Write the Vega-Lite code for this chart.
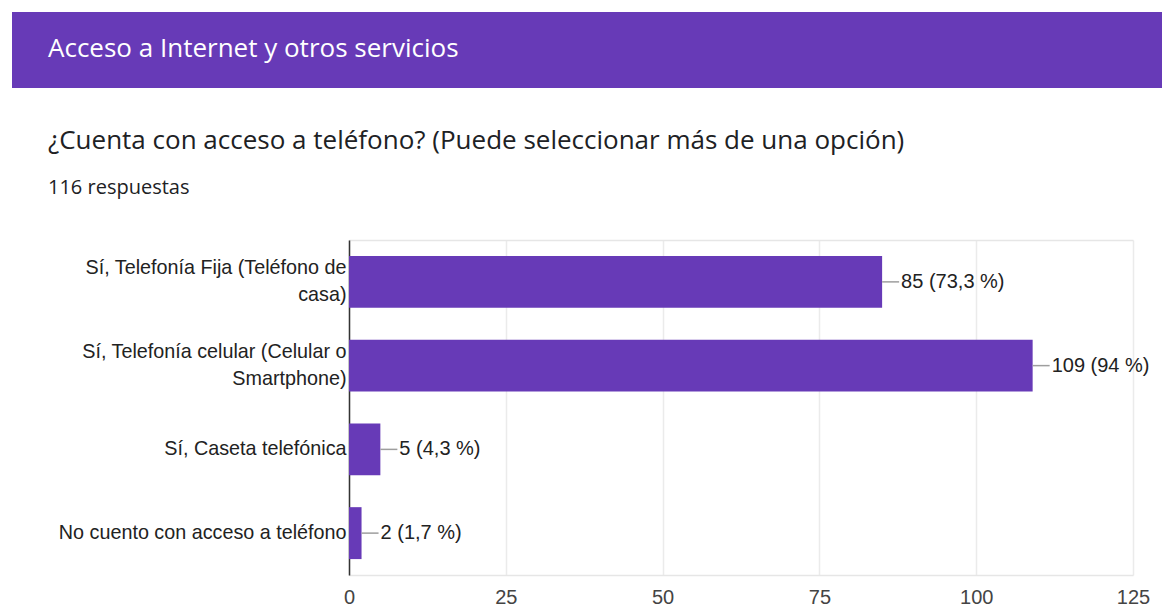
{
  "$schema": "https://vega.github.io/schema/vega-lite/v6.json",
  "background": "white",
  "padding": {"left": 12, "top": 12, "right": 0, "bottom": 0},
  "columns": 1,
  "align": "none",
  "spacing": 40,
  "config": {"font": "Liberation Sans"},
  "concat": [
    {
      "width": 1150,
      "height": 76,
      "view": {"fill": "#673ab7", "stroke": null},
      "data": {"values": [{"section": "Acceso a Internet y otros servicios"}]},
      "mark": {"type": "rect", "color": "#673ab7"},
      "encoding": {},
      "title": {
        "text": "Acceso a Internet y otros servicios",
        "anchor": "start",
        "frame": "group",
        "orient": "top",
        "dx": 36,
        "offset": -50,
        "color": "white",
        "font": "Open Sans",
        "fontSize": 26,
        "fontWeight": "normal"
      }
    },
    {
      "width": 1150,
      "height": 335,
      "view": {"stroke": null},
      "title": {
        "text": "¿Cuenta con acceso a teléfono? (Puede seleccionar más de una opción)",
        "subtitle": "116 respuestas",
        "anchor": "start",
        "frame": "group",
        "dx": 36,
        "offset": 42,
        "subtitlePadding": 24,
        "font": "Open Sans",
        "fontSize": 26,
        "fontWeight": "normal",
        "color": "#202124",
        "subtitleFont": "Open Sans",
        "subtitleFontSize": 20,
        "subtitleColor": "#202124"
      },
      "data": {
        "values": [
          {"option": "Sí, Telefonía Fija (Teléfono de casa)", "count": 85, "label": "85 (73,3 %)"},
          {"option": "Sí, Telefonía celular (Celular o Smartphone)", "count": 109, "label": "109 (94 %)"},
          {"option": "Sí, Caseta telefónica", "count": 5, "label": "5 (4,3 %)"},
          {"option": "No cuento con acceso a teléfono", "count": 2, "label": "2 (1,7 %)"}
        ]
      },
      "encoding": {
        "y": {
          "field": "option",
          "type": "nominal",
          "sort": null,
          "scale": {"paddingInner": 0.38, "paddingOuter": 0.19},
          "axis": {
            "title": null,
            "offset": -337,
            "domainColor": "#333333",
            "domainWidth": 1.5,
            "ticks": false,
            "grid": false,
            "labelPadding": 3,
            "labelFont": "Liberation Sans",
            "labelFontSize": 19.75,
            "labelColor": "#222222",
            "labelLimit": 400,
            "labelLineHeight": 27,
            "labelOffset": {"condition": {"test": "length(datum.label) > 32", "value": -13.5}, "value": 0},
            "labelExpr": "datum.label == 'Sí, Telefonía Fija (Teléfono de casa)' ? ['Sí, Telefonía Fija (Teléfono de', 'casa)'] : datum.label == 'Sí, Telefonía celular (Celular o Smartphone)' ? ['Sí, Telefonía celular (Celular o', 'Smartphone)'] : datum.label"
          }
        }
      },
      "resolve": {"axis": {"x": "independent"}},
      "layer": [
        {
          "mark": {"type": "bar", "color": "#673ab7"},
          "encoding": {
            "x": {
              "field": "count",
              "type": "quantitative",
              "scale": {"domain": [0, 125], "nice": false, "range": [337, 1121]},
              "axis": {
                "title": null,
                "orient": "bottom",
                "values": [0, 25, 50, 75, 100, 125],
                "grid": true,
                "gridColor": "#ebebeb",
                "gridWidth": 1.5,
                "domain": true,
                "domainColor": "#e6e6e6",
                "domainWidth": 1.5,
                "ticks": false,
                "labelFlush": false,
                "labelPadding": 12,
                "labelFont": "Liberation Sans",
                "labelFontSize": 20,
                "labelColor": "#444444"
              }
            }
          }
        },
        {
          "mark": {"type": "rule", "color": "#9e9e9e", "strokeWidth": 1.5, "x2Offset": 17},
          "encoding": {
            "x": {
              "field": "count",
              "type": "quantitative",
              "axis": {
                "title": null,
                "orient": "top",
                "labels": false,
                "ticks": false,
                "grid": false,
                "domain": true,
                "domainColor": "#e6e6e6",
                "domainWidth": 1.5
              }
            },
            "x2": {"field": "count"}
          }
        },
        {
          "mark": {"type": "text", "align": "left", "baseline": "middle", "dx": 19, "fontSize": 20, "font": "Liberation Sans", "color": "#222222"},
          "encoding": {
            "x": {"field": "count", "type": "quantitative", "axis": null},
            "text": {"field": "label"}
          }
        }
      ]
    }
  ]
}
